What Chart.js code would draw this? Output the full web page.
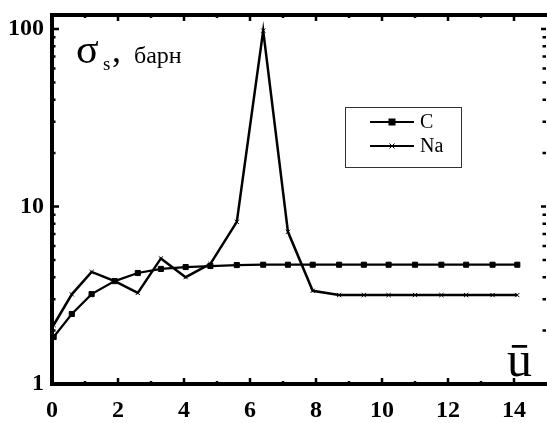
<!DOCTYPE html>
<html>
<head>
<meta charset="utf-8">
<script src="https://cdn.jsdelivr.net/npm/chart.js@4.4.0/dist/chart.umd.min.js"></script>
<style>
  body { margin: 0; background: #fff; }
  #wrap { width: 547px; height: 423px; }
</style>
</head>
<body>
<div id="wrap"><canvas id="sigma" width="547" height="423"></canvas></div>
<script>
// значения ū (средняя летаргия)
const uValues = [0.05, 0.6, 1.2, 1.9, 2.6, 3.3, 4.05, 4.8, 5.6, 6.4, 7.15, 7.9, 8.7, 9.45, 10.2, 11.0, 11.8, 12.55, 13.35, 14.1];
// сечение рассеяния, барн
const cValues = [1.84, 2.48, 3.21, 3.8, 4.22, 4.45, 4.56, 4.62, 4.68, 4.7, 4.7, 4.7, 4.7, 4.7, 4.7, 4.7, 4.7, 4.7, 4.7, 4.7];
const naValues = [2.15, 3.2, 4.28, 3.8, 3.26, 5.1, 4.0, 4.75, 8.2, 98, 7.2, 3.35, 3.17, 3.17, 3.17, 3.17, 3.17, 3.17, 3.17, 3.17];
const xTickLabels = [0, 2, 4, 6, 8, 10, 12, 14];
const yTickLabels = [1, 10, 100];

const serif = '"Liberation Serif", "DejaVu Serif", serif';

function pts(vals) {
  return uValues.map((u, i) => ({ x: u, y: vals[i] }));
}

// рамка, внутренние засечки, легенда и подписи
const framePlugin = {
  id: "frame",
  afterDatasetsDraw(chart) {
    const ctx = chart.ctx;
    const a = chart.chartArea;
    const xs = chart.scales.x, ys = chart.scales.y;
    ctx.save();
    ctx.strokeStyle = "#000";
    ctx.lineCap = "butt";

    // засечки по x (низ и верх)
    ctx.lineWidth = 2.5;
    for (let v = 1; v <= 14; v++) {
      const px = xs.getPixelForValue(v);
      const len = v % 2 === 0 ? 6 : 3;
      ctx.beginPath();
      ctx.moveTo(px, a.bottom); ctx.lineTo(px, a.bottom - len);
      ctx.moveTo(px, a.top); ctx.lineTo(px, a.top + len);
      ctx.stroke();
    }
    // засечки по y (слева и справа)
    const minors = [];
    for (let d = 1; d <= 10; d *= 10) for (let k = 2; k <= 9; k++) minors.push(k * d);
    minors.forEach(v => {
      const py = ys.getPixelForValue(v);
      ctx.beginPath();
      ctx.moveTo(a.left, py); ctx.lineTo(a.left + 3.5, py);
      ctx.moveTo(a.right - 1, py); ctx.lineTo(a.right - 4.5, py);
      ctx.stroke();
    });
    yTickLabels.forEach(v => {
      const py = ys.getPixelForValue(v);
      ctx.beginPath();
      ctx.moveTo(a.left, py); ctx.lineTo(a.left + 7, py);
      ctx.moveTo(a.right - 1, py); ctx.lineTo(a.right - 6, py);
      ctx.stroke();
    });

    // оси
    ctx.lineWidth = 4;
    ctx.beginPath();
    ctx.moveTo(a.left, a.top); ctx.lineTo(a.left, a.bottom + 2);
    ctx.moveTo(a.left - 2, a.bottom); ctx.lineTo(a.right, a.bottom);
    ctx.moveTo(a.left - 2, a.top); ctx.lineTo(a.right, a.top);
    ctx.stroke();

    // легенда
    ctx.lineWidth = 1;
    ctx.strokeStyle = "#333";
    ctx.strokeRect(345.5, 107.5, 116, 60);
    ctx.font = "20px " + serif;
    ctx.fillStyle = "#000";
    ctx.textBaseline = "middle";
    chart.data.datasets.forEach((ds, i) => {
      const y = 122 + i * 24;
      ctx.strokeStyle = "#000";
      ctx.lineWidth = 2;
      ctx.beginPath();
      ctx.moveTo(370, y); ctx.lineTo(414, y);
      ctx.stroke();
      if (ds.pointStyle === "rect") {
        ctx.fillRect(388.5, y - 3.5, 7, 7);
      } else {
        ctx.lineWidth = 1;
        ctx.beginPath();
        ctx.moveTo(389.5, y - 2.5); ctx.lineTo(394.5, y + 2.5);
        ctx.moveTo(394.5, y - 2.5); ctx.lineTo(389.5, y + 2.5);
        ctx.stroke();
      }
      ctx.fillText(ds.label, 420, y + 1);
    });

    // подпись оси y
    ctx.textBaseline = "alphabetic";
    ctx.font = "42px " + serif;
    ctx.fillText("σ", 76, 63);
    ctx.font = "19px " + serif;
    ctx.fillText("s", 103, 70);
    ctx.font = "36px " + serif;
    ctx.fillText(",", 112, 62);
    ctx.font = "24px " + serif;
    ctx.fillText("барн", 134, 63);
    // подпись оси x
    ctx.font = "50px " + serif;
    ctx.fillText("ū", 507, 376);
    ctx.restore();
  }
};

new Chart(document.getElementById("sigma"), {
  type: "scatter",
  data: {
    datasets: [
      {
        label: "C",
        data: pts(cValues),
        showLine: true,
        borderColor: "#000",
        backgroundColor: "#000",
        borderWidth: 2.2,
        pointStyle: "rect",
        pointRadius: 3.6,
        pointBorderWidth: 1
      },
      {
        label: "Na",
        data: pts(naValues),
        showLine: true,
        borderColor: "#000",
        backgroundColor: "#000",
        borderWidth: 2.5,
        pointStyle: "crossRot",
        pointRadius: 3,
        pointBorderWidth: 1
      }
    ]
  },
  options: {
    responsive: false,
    animation: false,
    layout: { autoPadding: false, padding: { top: 15, left: 0, right: 0, bottom: 0 } },
    plugins: { legend: { display: false }, tooltip: { enabled: false } },
    scales: {
      x: {
        type: "linear",
        min: 0,
        max: 15,
        grid: { display: false, drawTicks: false },
        border: { display: false },
        afterFit: s => { s.height = 39; s.paddingLeft = 0; s.paddingRight = 0; },
        afterBuildTicks: s => { s.ticks = xTickLabels.map(v => ({ value: v })); },
        ticks: {
          color: "#000",
          padding: 12,
          maxRotation: 0,
          font: { family: serif, size: 24, weight: "bold" },
          callback: v => String(v)
        }
      },
      y: {
        type: "logarithmic",
        min: 1,
        max: 120,
        grid: { display: false, drawTicks: false },
        border: { display: false },
        afterFit: s => { s.width = 52; s.paddingTop = 0; s.paddingBottom = 0; },
        afterBuildTicks: s => { s.ticks = yTickLabels.map(v => ({ value: v })); },
        ticks: {
          color: "#000",
          padding: 8,
          font: { family: serif, size: 24, weight: "bold" },
          callback: v => String(v)
        }
      }
    }
  },
  plugins: [framePlugin]
});
</script>
</body>
</html>
